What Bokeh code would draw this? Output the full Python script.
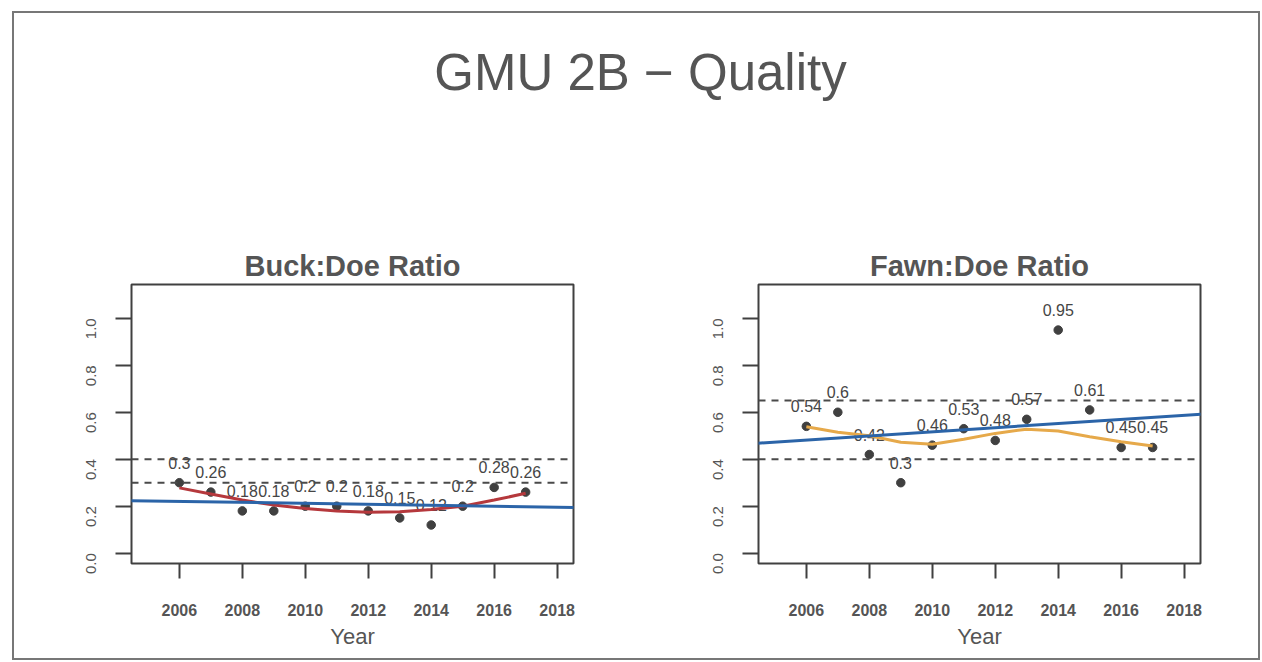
import math
import numpy as np
from bokeh.plotting import figure
from bokeh.models import Range1d, FixedTicker, Span, Slope, Label, PrintfTickFormatter
from bokeh.layouts import column, row
from bokeh.embed import file_html
from bokeh.resources import INLINE
from bokeh.core.properties import value

# ---------------- data ----------------
years = [2006, 2007, 2008, 2009, 2010, 2011, 2012, 2013, 2014, 2015, 2016, 2017]
buck_doe = [0.3, 0.26, 0.18, 0.18, 0.2, 0.2, 0.18, 0.15, 0.12, 0.2, 0.28, 0.26]
buck_smooth = [0.278, 0.252, 0.226, 0.205, 0.19, 0.18, 0.174, 0.176, 0.186, 0.2, 0.226, 0.255]
buck_thresholds = [0.3, 0.4]

fawn_doe = [0.54, 0.6, 0.42, 0.3, 0.46, 0.53, 0.48, 0.57, 0.95, 0.61, 0.45, 0.45]
fawn_smooth = [0.538, 0.515, 0.5, 0.472, 0.464, 0.485, 0.51, 0.528, 0.52, 0.496, 0.474, 0.456]
fawn_thresholds = [0.4, 0.65]

x_ticks = [2006, 2008, 2010, 2012, 2014, 2016, 2018]
y_ticks = [0.0, 0.2, 0.4, 0.6, 0.8, 1.0]

main_title = "GMU 2B \u2212 Quality"
FONT = "Liberation Sans"
TEXT = "#555555"
INK = "#404040"


def panel(title, vals, smooth, thresholds, smooth_color, left, right):
    p = figure(frame_width=442, frame_height=279,
               x_range=Range1d(2004.48, 2018.52), y_range=Range1d(-0.044, 1.144),
               output_backend="svg", toolbar_location=None,
               min_border_left=left, min_border_right=right,
               min_border_top=84, min_border_bottom=97,
               background_fill_color=None, border_fill_color=None,
               outline_line_color=INK, outline_line_width=2)
    p.title.text = title
    p.title.align = "center"
    p.title.text_font = FONT
    p.title.text_font_size = "29px"
    p.title.text_font_style = "bold"
    p.title.text_color = TEXT
    p.title.standoff = 5
    p.grid.visible = False

    xa = p.xaxis[0]
    xa.ticker = FixedTicker(ticks=x_ticks)
    xa.axis_line_color = None
    xa.major_tick_in = 0
    xa.major_tick_out = 15
    xa.major_tick_line_color = INK
    xa.major_tick_line_width = 2
    xa.minor_tick_line_color = None
    xa.major_label_standoff = 25
    xa.major_label_text_font = FONT
    xa.major_label_text_font_size = "16px"
    xa.major_label_text_font_style = "bold"
    xa.major_label_text_color = TEXT
    xa.axis_label = "Year"
    xa.axis_label_text_font = FONT
    xa.axis_label_text_font_size = "22px"
    xa.axis_label_text_font_style = "normal"
    xa.axis_label_text_color = TEXT
    xa.axis_label_standoff = 5

    ya = p.yaxis[0]
    ya.ticker = FixedTicker(ticks=y_ticks)
    ya.formatter = PrintfTickFormatter(format="%.1f")
    ya.axis_line_color = None
    ya.major_tick_in = 0
    ya.major_tick_out = 16
    ya.major_tick_line_color = INK
    ya.major_tick_line_width = 2
    ya.minor_tick_line_color = None
    ya.major_label_orientation = math.pi / 2
    ya.major_label_standoff = 24
    ya.major_label_text_font = FONT
    ya.major_label_text_font_size = "15px"
    ya.major_label_text_color = TEXT

    for t in thresholds:
        p.add_layout(Span(location=t, dimension="width", line_color="#4a4a4a",
                          line_width=2, line_dash="7 6"))

    p.scatter(years, vals, size=8.5, color=INK)
    p.text(x=years, y=vals, text=[f"{v:g}" for v in vals], y_offset=-20,
           text_align="center", text_baseline="middle",
           text_font=value(FONT), text_font_size="16px", text_color="#454545")
    p.line(years, smooth, line_color=smooth_color, line_width=3)

    m, b = np.polyfit(years, vals, 1)
    p.add_layout(Slope(gradient=float(m), y_intercept=float(b),
                       line_color="#2b64a8", line_width=3))
    return p


p1 = panel("Buck:Doe Ratio", buck_doe, buck_smooth, buck_thresholds, "#b5383c", 131, 59)
p2 = panel("Fawn:Doe Ratio", fawn_doe, fawn_smooth, fawn_thresholds, "#e6a94a", 126, 62)

header = figure(width=1262, height=200, x_range=Range1d(0, 1262), y_range=Range1d(200, 0),
                min_border=0, toolbar_location=None, output_backend="svg",
                outline_line_color=None, x_axis_location=None, y_axis_location=None,
                border_fill_color=None, background_fill_color=None)
header.grid.visible = False
header.add_layout(Label(x=640, y=72, text=main_title, text_align="center",
                        text_baseline="alphabetic", text_font=FONT,
                        text_font_size="51px", text_color=TEXT))

g = "linear-gradient(#777777, #777777)"
page_frame = {
    "background-image": ", ".join([g] * 4),
    "background-repeat": "no-repeat",
    "background-position": "12px 11px, 12px 658px, 12px 11px, 1258px 11px",
    "background-size": "1248px 2px, 1248px 2px, 2px 649px, 2px 649px",
}

layout = column(header, row(p1, p2), styles=page_frame)

open("out.html", "w").write(file_html(layout, INLINE))
